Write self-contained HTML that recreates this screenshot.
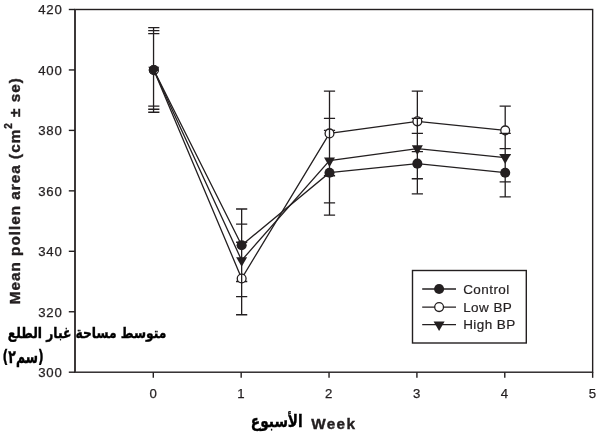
<!DOCTYPE html>
<html lang="en">
<head>
<meta charset="utf-8">
<title>Mean pollen area by week</title>
<style>
html,body{margin:0;padding:0;background:#fff;}
body{width:600px;height:434px;position:relative;overflow:hidden;}
svg text{font-family:"Liberation Sans","DejaVu Sans",sans-serif;fill:#231f20;}
.tk{font-size:13.2px;letter-spacing:0.8px;stroke:#231f20;stroke-width:0.25px;}
.lg{font-size:13.5px;letter-spacing:0.42px;stroke:#231f20;stroke-width:0.2px;}
.yl{font-size:15.3px;font-weight:bold;letter-spacing:1.0px;stroke:#231f20;stroke-width:0.4px;}
.xl{font-size:15.3px;font-weight:bold;letter-spacing:1.35px;stroke:#231f20;stroke-width:0.4px;}
svg text.ar{font-family:"DejaVu Sans Condensed","DejaVu Sans","Liberation Sans",sans-serif;font-weight:bold;fill:#000;stroke:#000;stroke-width:0.35px;}
</style>
</head>
<body>
<svg width="600" height="434" viewBox="0 0 600 434" style="position:absolute;left:0;top:0">
<rect x="0" y="0" width="600" height="434" fill="#fff"/>
<g fill="none" stroke="#231f20" stroke-width="1.4">
<rect x="75.0" y="9.5" width="517.65" height="362.70"/>
<line x1="75.0" y1="9.5" x2="75.0" y2="372.2" stroke-width="1.9" stroke="#3a3637"/>
<line x1="68.80" y1="372.20" x2="75.0" y2="372.20"/>
<line x1="68.80" y1="311.75" x2="75.0" y2="311.75"/>
<line x1="68.80" y1="251.30" x2="75.0" y2="251.30"/>
<line x1="68.80" y1="190.85" x2="75.0" y2="190.85"/>
<line x1="68.80" y1="130.40" x2="75.0" y2="130.40"/>
<line x1="68.80" y1="69.95" x2="75.0" y2="69.95"/>
<line x1="68.80" y1="9.50" x2="75.0" y2="9.50"/>
<line x1="153.30" y1="372.2" x2="153.30" y2="377.80"/>
<line x1="241.17" y1="372.2" x2="241.17" y2="377.80"/>
<line x1="329.04" y1="372.2" x2="329.04" y2="377.80"/>
<line x1="416.91" y1="372.2" x2="416.91" y2="377.80"/>
<line x1="504.78" y1="372.2" x2="504.78" y2="377.80"/>
<line x1="592.65" y1="372.2" x2="592.65" y2="377.80"/>
</g>
<polyline points="153.80,69.95 241.65,245.25 329.50,172.72 417.35,163.65 505.20,172.72" stroke="#231f20" stroke-width="1.3" fill="none"/>
<path d="M153.55 27.63V112.27M241.65 208.99V314.77M329.50 91.11V215.03M417.35 91.11V193.87M505.20 106.22V196.89" stroke="#231f20" stroke-width="1.3" fill="none"/>
<path d="M148.20 33.68H159.40M148.20 106.22H159.40M236.05 208.99H247.25M236.05 281.52H247.25M323.90 130.40H335.10M323.90 215.03H335.10M411.75 133.42H422.95M411.75 193.87H422.95M499.60 148.53H510.80M499.60 196.89H510.80" stroke="#231f20" stroke-width="1.3" fill="none"/>
<circle cx="153.80" cy="69.95" r="5.05" fill="#231f20"/>
<circle cx="241.65" cy="245.25" r="5.05" fill="#231f20"/>
<circle cx="329.50" cy="172.72" r="5.05" fill="#231f20"/>
<circle cx="417.35" cy="163.65" r="5.05" fill="#231f20"/>
<circle cx="505.20" cy="172.72" r="5.05" fill="#231f20"/>
<polyline points="153.80,69.95 241.65,278.50 329.50,133.42 417.35,121.33 505.20,130.40" stroke="#231f20" stroke-width="1.3" fill="none"/>
<path d="M148.20 27.63H159.40M148.20 112.27H159.40M236.05 242.23H247.25M236.05 314.77H247.25M323.90 91.11H335.10M323.90 175.74H335.10M411.75 91.11H422.95M411.75 151.56H422.95M499.60 106.22H510.80M499.60 154.58H510.80" stroke="#231f20" stroke-width="1.3" fill="none"/>
<circle cx="153.80" cy="69.95" r="4.40" fill="#fff" stroke="#231f20" stroke-width="1.3"/>
<circle cx="241.65" cy="278.50" r="4.40" fill="#fff" stroke="#231f20" stroke-width="1.3"/>
<circle cx="329.50" cy="133.42" r="4.40" fill="#fff" stroke="#231f20" stroke-width="1.3"/>
<circle cx="417.35" cy="121.33" r="4.40" fill="#fff" stroke="#231f20" stroke-width="1.3"/>
<circle cx="505.20" cy="130.40" r="4.40" fill="#fff" stroke="#231f20" stroke-width="1.3"/>
<polyline points="153.80,69.95 241.65,260.37 329.50,160.62 417.35,148.53 505.20,157.60" stroke="#231f20" stroke-width="1.3" fill="none"/>
<path d="M153.55 64.90V75.00M241.65 273.45V283.55M329.50 128.37V138.47M417.35 118.31V126.38M505.20 133.42V135.45" stroke="#231f20" stroke-width="1.3" fill="none"/>
<path d="M148.20 30.66H159.40M148.20 109.24H159.40M236.05 224.10H247.25M236.05 296.64H247.25M323.90 118.31H335.10M323.90 202.94H335.10M411.75 118.31H422.95M411.75 178.76H422.95M499.60 133.42H510.80M499.60 181.78H510.80" stroke="#231f20" stroke-width="1.3" fill="none"/>
<path d="M148.30 66.75H159.30L153.80 76.35Z" fill="#231f20"/>
<path d="M236.15 257.17H247.15L241.65 266.77Z" fill="#231f20"/>
<path d="M324.00 157.43H335.00L329.50 167.03Z" fill="#231f20"/>
<path d="M411.85 145.34H422.85L417.35 154.94Z" fill="#231f20"/>
<path d="M499.70 154.40H510.70L505.20 164.00Z" fill="#231f20"/>
<circle cx="153.80" cy="69.95" r="4.3" fill="#231f20"/>
<path d="M156.40 72.85l1.2 -1.6" stroke="#fff" stroke-width="0.7" fill="none"/>
<rect x="412.5" y="270.5" width="113.80" height="72.50" fill="#fff" stroke="#231f20" stroke-width="1.4"/>
<line x1="422.2" y1="289.0" x2="456" y2="289.0" stroke="#231f20" stroke-width="1.3"/>
<circle cx="439.10" cy="289.00" r="5.05" fill="#231f20"/>
<text x="463.2" y="293.60" class="lg">Control</text>
<line x1="422.2" y1="307.1" x2="456" y2="307.1" stroke="#231f20" stroke-width="1.3"/>
<circle cx="439.10" cy="307.10" r="4.40" fill="#fff" stroke="#231f20" stroke-width="1.3"/>
<text x="463.2" y="311.70" class="lg">Low BP</text>
<line x1="422.2" y1="324.6" x2="456" y2="324.6" stroke="#231f20" stroke-width="1.3"/>
<path d="M433.60 321.40H444.60L439.10 331.00Z" fill="#231f20"/>
<text x="463.2" y="329.20" class="lg">High BP</text>
<text x="62.55" y="376.95" class="tk" text-anchor="end">300</text>
<text x="62.55" y="316.50" class="tk" text-anchor="end">320</text>
<text x="62.55" y="256.05" class="tk" text-anchor="end">340</text>
<text x="62.55" y="195.60" class="tk" text-anchor="end">360</text>
<text x="62.55" y="135.15" class="tk" text-anchor="end">380</text>
<text x="62.55" y="74.70" class="tk" text-anchor="end">400</text>
<text x="62.55" y="14.25" class="tk" text-anchor="end">420</text>
<text x="153.45" y="397.7" class="tk" text-anchor="middle">0</text>
<text x="241.32" y="397.7" class="tk" text-anchor="middle">1</text>
<text x="329.19" y="397.7" class="tk" text-anchor="middle">2</text>
<text x="417.06" y="397.7" class="tk" text-anchor="middle">3</text>
<text x="504.93" y="397.7" class="tk" text-anchor="middle">4</text>
<text x="592.80" y="397.7" class="tk" text-anchor="middle">5</text>
<text transform="translate(19.9 304.3) rotate(-90)" class="yl">Mean pollen area (cm<tspan dy="-8.4" font-size="10">2</tspan><tspan dy="8.4"> ± se)</tspan></text>
<text x="311.2" y="429.3" class="xl">Week</text>
<text x="302.8" y="426.8" class="ar" direction="rtl" textLength="52" lengthAdjust="spacingAndGlyphs" style="font-size:17px">الأسبوع</text>
<text x="166.3" y="338" class="ar" direction="rtl" textLength="158.5" lengthAdjust="spacingAndGlyphs" style="font-size:15px">متوسط مساحة غبار الطلع</text>
<text x="43.6" y="362.7" class="ar" direction="rtl" textLength="41" lengthAdjust="spacingAndGlyphs" style="font-size:18px">(سم٢)</text>
</svg>
</body>
</html>
